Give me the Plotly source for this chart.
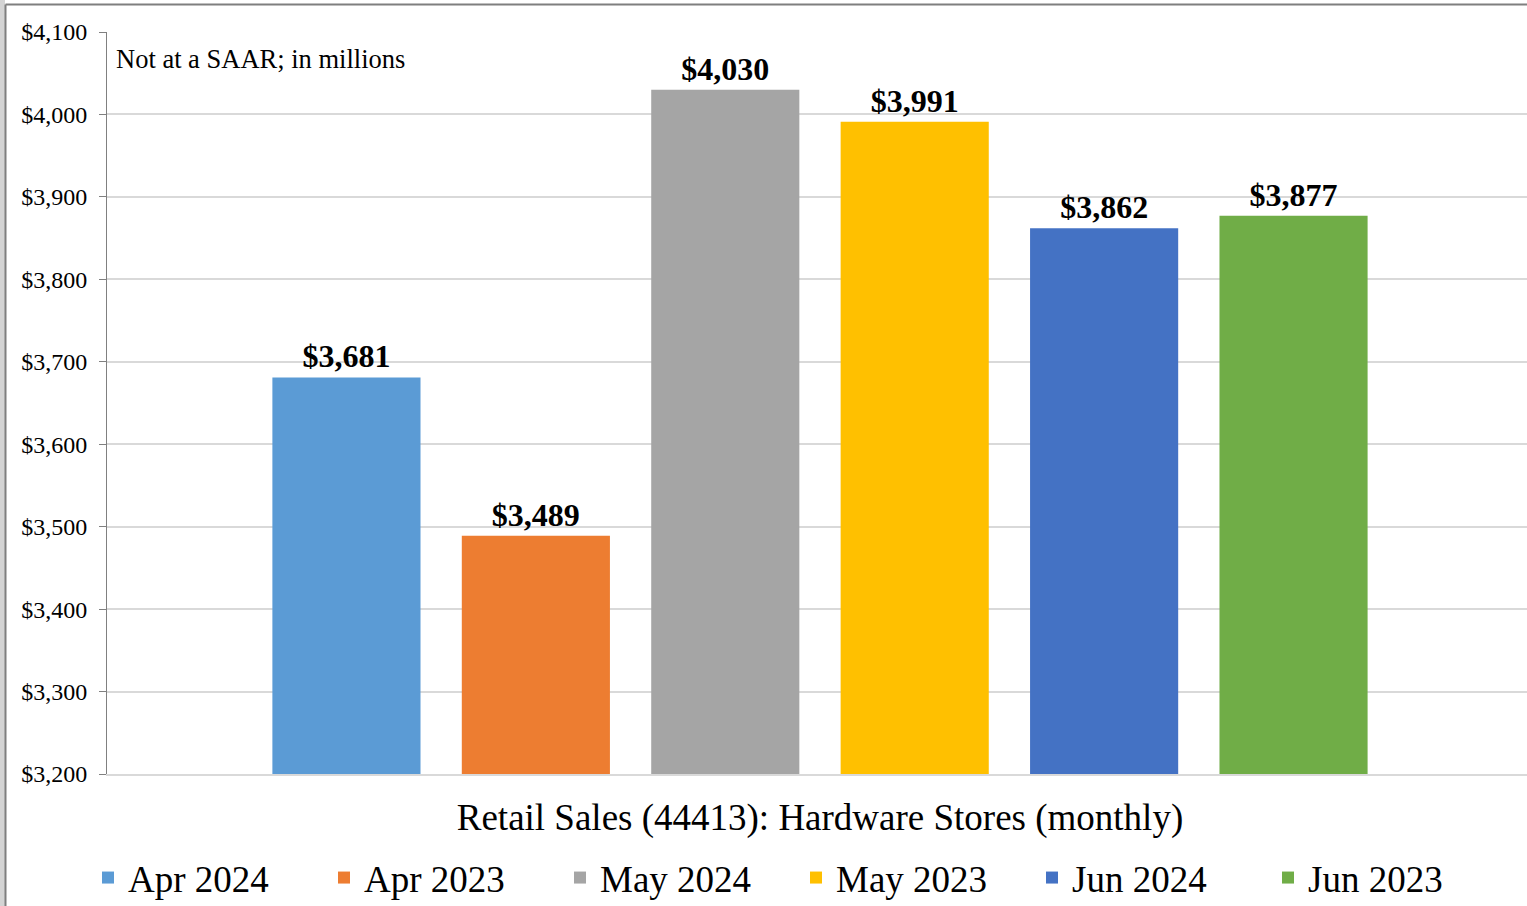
import plotly.graph_objects as go

# Monthly hardware store sales, not seasonally adjusted, $ millions
category = ["Retail Sales (44413): Hardware Stores (monthly)"]
series_names = ["Apr 2024", "Apr 2023", "May 2024", "May 2023", "Jun 2024", "Jun 2023"]
series_values = [3681, 3489, 4030, 3991, 3862, 3877]
series_colors = ["#5B9BD5", "#ED7D31", "#A5A5A5", "#FFC000", "#4472C4", "#70AD47"]

y_min, y_max, y_step = 3200, 4100, 100
note_text = "Not at a SAAR; in millions"

FONT = "Liberation Serif, Times New Roman, serif"

W, H = 1527, 906
L, R, T, B = 107, 0, 32, 132
plot_w = W - L - R
plot_h = H - T - B


def px_x(p):
    return (p - L) / plot_w


def px_y(p):
    return (H - B - p) / plot_h


fig = go.Figure()
for name, val, col in zip(series_names, series_values, series_colors):
    fig.add_trace(go.Bar(
        x=category,
        y=[val],
        name=name,
        marker=dict(color=col, line=dict(width=0)),
        text=[f"${val:,}"],
        textposition="outside",
        textfont=dict(family=FONT, size=32, color="#000000", weight="bold"),
        cliponaxis=False,
    ))

fig.update_layout(
    width=W,
    height=H,
    margin=dict(l=L, r=R, t=T, b=B, autoexpand=False),
    paper_bgcolor="#ffffff",
    plot_bgcolor="#ffffff",
    barmode="group",
    bargap=0.203,
    bargroupgap=0.218,
    font=dict(family=FONT, color="#000000"),
    showlegend=True,
    legend=dict(
        orientation="h",
        xref="container",
        yref="container",
        x=88 / W,
        y=1 - 878 / H,
        xanchor="left",
        yanchor="middle",
        font=dict(family=FONT, size=37, color="#000000"),
        entrywidth=191,
        entrywidthmode="pixels",
        itemclick=False,
        bgcolor="rgba(0,0,0,0)",
        traceorder="normal",
    ),
    xaxis=dict(
        type="category",
        range=[-0.5, 0.4958],
        showgrid=False,
        showline=True,
        linecolor="#d9d9d9",
        linewidth=2,
        ticks="",
        tickfont=dict(family=FONT, size=37, color="#000000"),
        ticklabelstandoff=10,
        fixedrange=True,
    ),
    yaxis=dict(
        range=[y_min, y_max],
        dtick=y_step,
        tick0=y_min,
        tickprefix="$",
        tickformat=",",
        showgrid=True,
        gridcolor="#d9d9d9",
        gridwidth=1.5,
        zeroline=False,
        showline=True,
        linecolor="#808080",
        linewidth=1,
        ticks="outside",
        ticklen=7,
        tickcolor="#808080",
        tickfont=dict(family=FONT, size=24, color="#000000"),
        ticklabelstandoff=7,
        fixedrange=True,
    ),
    annotations=[
        dict(
            text=note_text,
            xref="paper", yref="paper",
            x=px_x(114), y=px_y(59),
            xanchor="left", yanchor="middle",
            showarrow=False,
            font=dict(family=FONT, size=26.5, color="#000000"),
        )
    ],
    shapes=[
        # light strip and frame line along the left edge
        dict(type="rect", xref="paper", yref="paper",
             x0=px_x(0), x1=px_x(5), y0=px_y(H), y1=px_y(0),
             fillcolor="#d4d4d4", line=dict(width=0), layer="below"),
        dict(type="line", xref="paper", yref="paper",
             x0=px_x(5.5), x1=px_x(5.5), y0=px_y(H), y1=px_y(4.5),
             line=dict(color="#7f7f7f", width=2)),
        # frame line along the top edge
        dict(type="line", xref="paper", yref="paper",
             x0=px_x(5.5), x1=px_x(W), y0=px_y(4.5), y1=px_y(4.5),
             line=dict(color="#7f7f7f", width=2)),
    ],
)

fig.write_html("out.html")
